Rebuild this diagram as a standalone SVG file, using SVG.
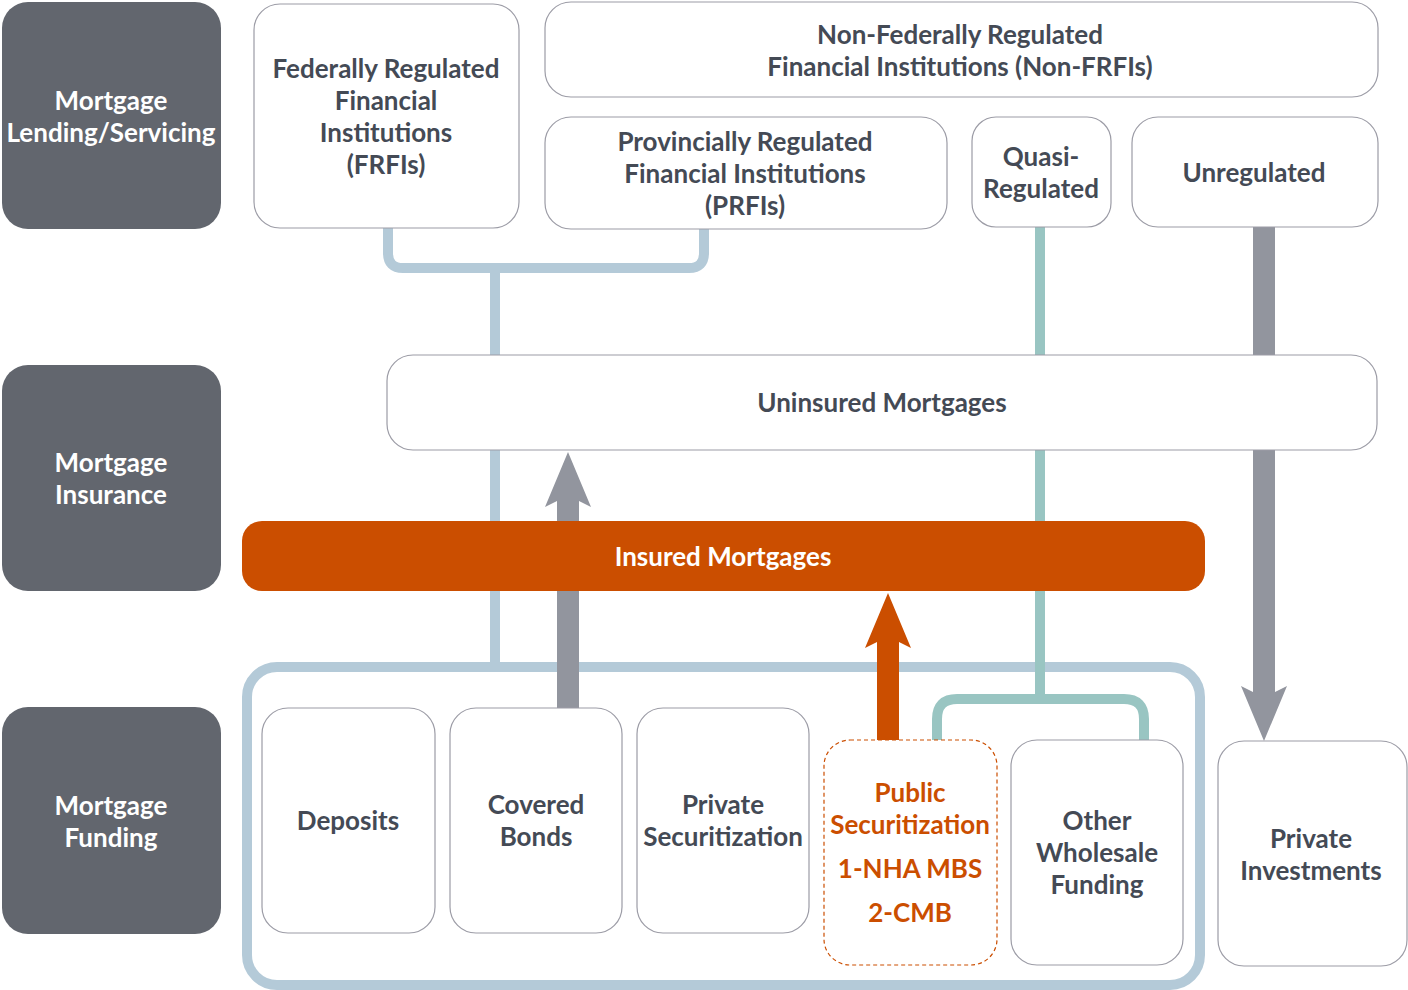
<svg xmlns="http://www.w3.org/2000/svg" width="1408" height="990" viewBox="0 0 1408 990">
<style>
.cat{fill:#62666e}
.box{fill:#fff;stroke:#9c9ca6;stroke-width:1.2}
.pub{fill:#fff;stroke:#cb4e00;stroke-width:1.2;stroke-dasharray:4 3}
text{font-family:"Lato","Liberation Sans",sans-serif;font-size:26px;font-weight:700;text-anchor:middle}
.w{fill:#fff}
.d{fill:#444a55}
.o{fill:#cb4e00}
.blue{fill:none;stroke:#b4cad8;stroke-width:10}
.teal{fill:none;stroke:#99c5c2;stroke-width:10}
.gray{fill:none;stroke:#92959e;stroke-width:22}
.orng{fill:none;stroke:#cb4e00;stroke-width:22}
</style>
<defs>
<marker id="hg" markerUnits="userSpaceOnUse" markerWidth="55" markerHeight="48" viewBox="0 0 55 48" refX="6" refY="24" orient="auto">
<path d="M55,24 L0,1 L6,13 L6,35 L0,47 Z" fill="#92959e"/>
</marker>
<marker id="ho" markerUnits="userSpaceOnUse" markerWidth="55" markerHeight="48" viewBox="0 0 55 48" refX="6" refY="24" orient="auto">
<path d="M55,24 L0,1 L6,13 L6,35 L0,47 Z" fill="#cb4e00"/>
</marker>
</defs>
<g id="connectors">
<path class="blue" d="M388,228 V253 Q388,268 403,268 H689 Q704,268 704,253 V228"/>
<path class="blue" d="M495,268 V667"/>
<rect class="blue" x="247" y="667" width="953" height="318" rx="30"/>
<path class="teal" d="M1040,227 V699"/>
<path class="teal" d="M937,740 V719 Q937,699 957,699 H1124 Q1144,699 1144,719 V740"/>
<path class="gray" d="M568,708 V501" marker-end="url(#hg)"/>
<path class="orng" d="M888,740 V642" marker-end="url(#ho)"/>
<path class="gray" d="M1264,227 V692" marker-end="url(#hg)"/>
</g>
<g id="cat-lending"><rect class="cat" x="2" y="2" width="219" height="227" rx="26"/><text class="w" x="111" y="110">Mortgage</text><text class="w" x="111" y="142">Lending/Servicing</text></g>
<g id="cat-insurance"><rect class="cat" x="2" y="365" width="219" height="226" rx="26"/><text class="w" x="111" y="472">Mortgage</text><text class="w" x="111" y="504">Insurance</text></g>
<g id="cat-funding"><rect class="cat" x="2" y="707" width="219" height="227" rx="26"/><text class="w" x="111" y="815">Mortgage</text><text class="w" x="111" y="847">Funding</text></g>
<g id="frfi"><rect class="box" x="254" y="4" width="265" height="224" rx="26"/><text class="d" x="386" y="78">Federally Regulated</text><text class="d" x="386" y="110">Financial</text><text class="d" x="386" y="142">Institutions</text><text class="d" x="386" y="174">(FRFIs)</text></g>
<g id="nonfrfi"><rect class="box" x="545" y="2" width="833" height="95" rx="26"/><text class="d" x="960" y="44">Non-Federally Regulated</text><text class="d" x="960" y="76">Financial Institutions (Non-FRFIs)</text></g>
<g id="prfi"><rect class="box" x="545" y="117" width="402" height="112" rx="26"/><text class="d" x="745" y="151">Provincially Regulated</text><text class="d" x="745" y="183">Financial Institutions</text><text class="d" x="745" y="215">(PRFIs)</text></g>
<g id="quasi"><rect class="box" x="972" y="117" width="139" height="110" rx="24"/><text class="d" x="1041" y="166">Quasi-</text><text class="d" x="1041" y="198">Regulated</text></g>
<g id="unreg"><rect class="box" x="1132" y="117" width="246" height="110" rx="26"/><text class="d" x="1254" y="182">Unregulated</text></g>
<g id="uninsured"><rect class="box" x="387" y="355" width="990" height="95" rx="26"/><text class="d" x="882" y="412">Uninsured Mortgages</text></g>
<g id="insured"><rect x="242" y="521" width="963" height="70" rx="20" fill="#cb4e00"/><text class="w" x="723" y="566">Insured Mortgages</text></g>
<g id="deposits"><rect class="box" x="262" y="708" width="173" height="225" rx="26"/><text class="d" x="348" y="830">Deposits</text></g>
<g id="covered"><rect class="box" x="450" y="708" width="172" height="225" rx="26"/><text class="d" x="536" y="814">Covered</text><text class="d" x="536" y="846">Bonds</text></g>
<g id="privsec"><rect class="box" x="637" y="708" width="172" height="225" rx="26"/><text class="d" x="723" y="814">Private</text><text class="d" x="723" y="846">Securitization</text></g>
<g id="pubsec"><rect class="pub" x="824" y="740" width="173" height="225" rx="26"/><text class="o" x="910" y="802">Public</text><text class="o" x="910" y="834">Securitization</text><text class="o" x="910" y="878">1-NHA MBS</text><text class="o" x="910" y="922">2-CMB</text></g>
<g id="wholesale"><rect class="box" x="1011" y="740" width="172" height="225" rx="26"/><text class="d" x="1097" y="830">Other</text><text class="d" x="1097" y="862">Wholesale</text><text class="d" x="1097" y="894">Funding</text></g>
<g id="privinv"><rect class="box" x="1218" y="741" width="189" height="225" rx="26"/><text class="d" x="1311" y="848">Private</text><text class="d" x="1311" y="880">Investments</text></g>
</svg>
